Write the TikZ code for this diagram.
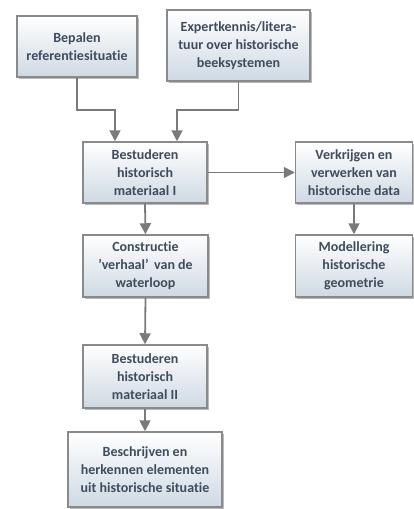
\documentclass[tikz,border=0pt]{standalone}
\usepackage{fontspec}
\setmainfont{Carlito}[Ligatures={NoCommon}]
\usepackage{xcolor}
\usetikzlibrary{arrows.meta,shadows}

\definecolor{boxtext}{HTML}{3E4C5E}
\definecolor{boxline}{HTML}{8A8A8A}
\definecolor{boxbottom}{HTML}{CFD9E3}
\definecolor{flowgray}{HTML}{7A7A7A}

\begin{document}
\begin{tikzpicture}[x=1pt, y=-1pt]
    \tikzstyle{stapbox}=[rectangle, draw=boxline, line width=1.5pt, top color=white, bottom color=boxbottom,
        drop shadow={shadow xshift=1.5pt, shadow yshift=-1.5pt, fill=black!45, opacity=.6},
        align=center, inner sep=2pt, text=boxtext, font=\fontsize{14}{18}\selectfont\bfseries]
    \tikzstyle{flow}=[draw=flowgray, line width=1.8pt, -{Triangle[length=11pt,width=11pt]}]

    \useasboundingbox (0,0) rectangle (414,509);

    % bovenste rij
    \node[stapbox, minimum width=120, minimum height=61] (bepalen) at (77, 46.5) {Bepalen\\referentiesituatie};
    \node[stapbox, minimum width=143, minimum height=71] (expert) at (238.5, 45.5) {Expertkennis/litera-\\tuur over historische\\beeksystemen};

    % linker kolom
    \node[stapbox, minimum width=124, minimum height=61] (studieI) at (145, 172.5) {Bestuderen\\historisch\\materiaal I};
    \node[stapbox, minimum width=125, minimum height=62] (verhaal) at (145.5, 266) {Constructie\\'verhaal'\, van de\\waterloop};
    \node[stapbox, minimum width=124, minimum height=63] (studieII) at (145, 376.5) {Bestuderen\\historisch\\materiaal II};
    \node[stapbox, minimum width=154, minimum height=75] (beschrijven) at (145, 469.5) {Beschrijven en\\herkennen elementen\\uit historische situatie};

    % rechter kolom
    \node[stapbox, minimum width=117, minimum height=61] (data) at (354, 172.5) {Verkrijgen en\\verwerken van\\historische data};
    \node[stapbox, minimum width=117, minimum height=62] (geometrie) at (354, 266) {Modellering\\historische\\geometrie};

    \draw[flow] (bepalen.south) -- ++(0,32) -| ([xshift=-30]studieI.north);
    \draw[flow] (expert.south) -- ++(0,28) -| ([xshift=32]studieI.north);
    \draw[flow] (studieI.east) -- (data.west);
    \draw[flow] (data.south) -- (geometrie.north);
    \draw[flow] (studieI.south) -- (verhaal.north);
    \draw[flow] (verhaal.south) -- (studieII.north);
    \draw[flow] (studieII.south) -- (beschrijven.north);

\end{tikzpicture}
\end{document}
